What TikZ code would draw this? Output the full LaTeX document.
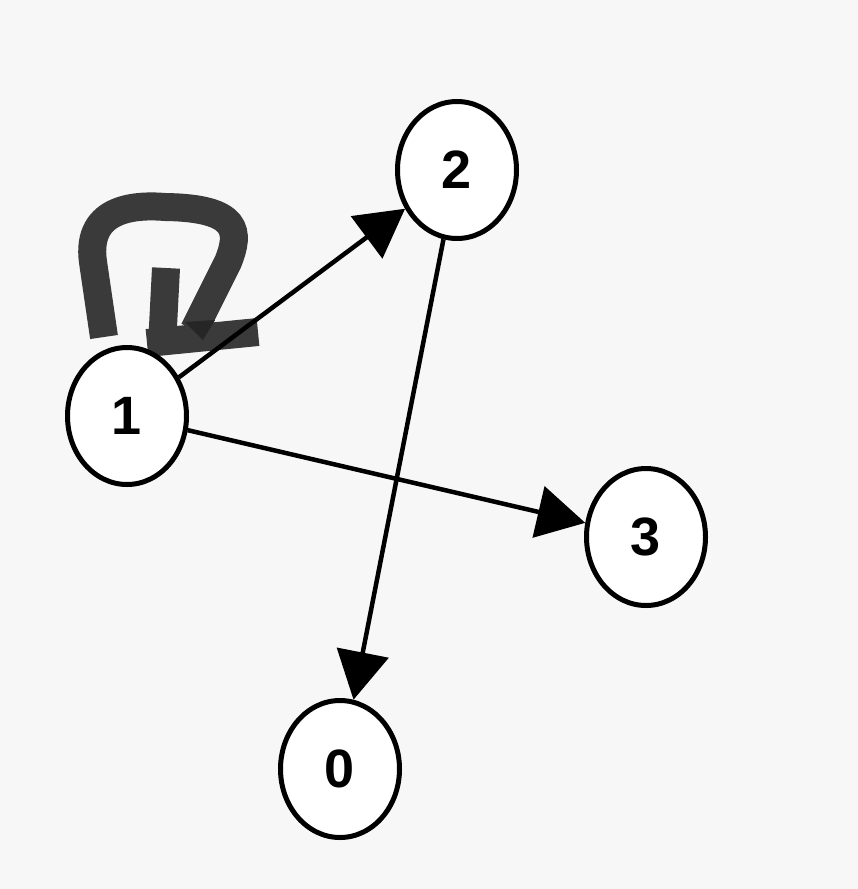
\documentclass[tikz,border=0pt]{standalone}
\usepackage{fontspec}
\setmainfont{Liberation Sans}
\usetikzlibrary{arrows.meta,shapes.geometric}
\definecolor{bgc}{HTML}{F7F7F7}
\definecolor{loopc}{HTML}{3A3A3A}
\begin{document}
\begin{tikzpicture}[x=1pt,y=-1pt,
  vert/.style={ellipse,draw=black,fill=white,line width=5pt,minimum width=119pt,minimum height=137pt,inner sep=0pt,font=\fontsize{54}{54}\selectfont\bfseries},
  edge/.style={line width=4.5pt,-{Triangle[length=48pt,width=52pt]}},
  scrib/.style={line width=28pt,draw=loopc}]
\fill[bgc] (0,0) rectangle (858,889);
\useasboundingbox (0,0) rectangle (858,889);
% self-loop scribble
\draw[scrib] (104,337) -- (93,262) .. controls (85,205) and (140,205) .. (165,207)
  .. controls (240,208) and (240,232) .. (228,262) -- (194,330);
\draw[scrib] (166,268) -- (162,346);
\draw[scrib] (147,343) -- (258,332);
\fill[black!85] (185,322) -- (215,320) -- (203,340) -- cycle;
\node[vert] (n1) at (127,416) {1};
\node[vert] (n2) at (457,170) {2};
\node[vert] (n3) at (646,537) {3};
\node[vert] (n0) at (340,769) {0};
\draw[edge] (n1) -- (n2);
\draw[edge] (n1) -- (n3);
\draw[edge] (n2) -- (n0);
\end{tikzpicture}
\end{document}
